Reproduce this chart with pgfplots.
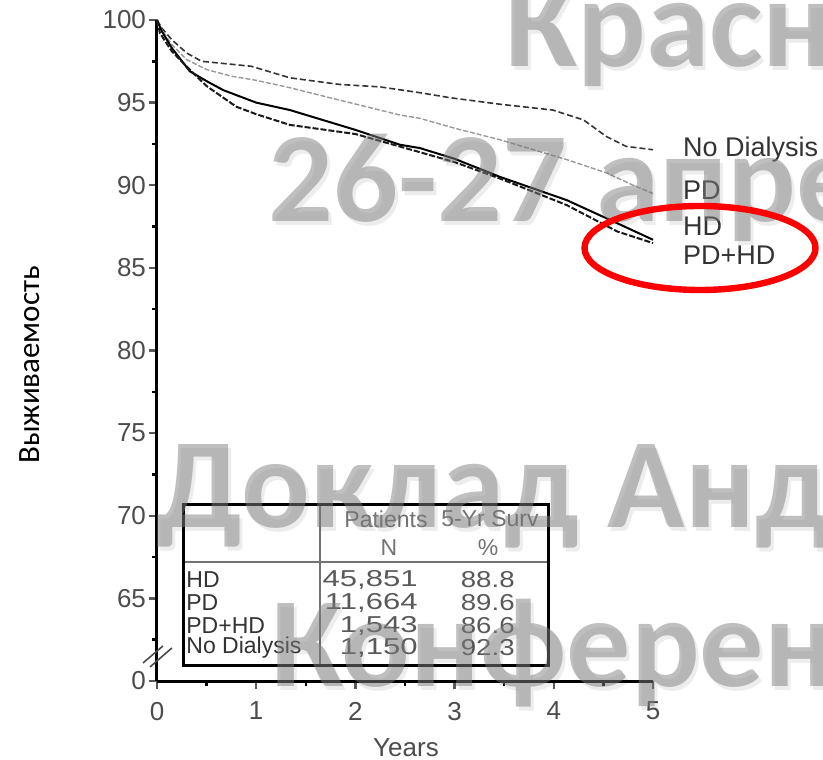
\documentclass[border=0pt]{standalone}
\usepackage{pgfplots}
\pgfplotsset{compat=1.18}
\usepackage{fontspec}
\setmainfont{Liberation Sans}
\newfontfamily\calibri{Carlito}
\definecolor{tickgray}{gray}{0.3}
\definecolor{txtgray}{gray}{0.2}
\definecolor{wm}{gray}{0.5}
\newcommand{\px}[2]{({(#1-157)*0.5pt},{(681-#2)*0.5pt})}
\begin{document}
\begin{tikzpicture}
\path[use as bounding box] (-78.5pt,-39pt) rectangle (333pt,340.5pt);
\clip (-78.5pt,-39pt) rectangle (333pt,340.5pt);
\begin{axis}[
  at={(0,0)}, anchor=south west,
  x=49.6pt, y=8.2625pt,
  xmin=0, xmax=5, ymin=60, ymax=100,
  axis x line*=bottom, axis y line*=left,
  axis line style={line width=1.5pt, black},
  clip=false,
  xtick={0,1,2,3,4,5}, minor xtick={0.5,1.5,2.5,3.5,4.5},
  ytick={60,65,70,75,80,85,90,95,100},
  yticklabels={0,65,70,75,80,85,90,95,100},
  minor ytick={62.5,67.5,72.5,77.5,82.5,87.5,92.5,97.5},
  tick align=outside,
  major tick length=4pt, minor tick length=2.5pt,
  every major tick/.append style={line width=1.2pt, black!65},
  every minor tick/.append style={line width=1.2pt, black},
  tick label style={font=\fontsize{13}{13}\selectfont, text=tickgray},
  /pgf/number format/assume math mode=true,
  xticklabel style={yshift=-3pt},
  yticklabel style={xshift=2pt},
  xlabel={Years},
  xlabel style={at={(axis description cs:0.502,-0.1014)}, anchor=center, font=\fontsize{13}{13}\selectfont, text=tickgray},
  ylabel={Выживаемость},
  ylabel style={at={(axis description cs:-0.256,0.478)}, anchor=center, font=\calibri\fontsize{15.5}{15.5}\selectfont, text=black},
]
% No Dialysis
\addplot[black!80, line width=0.8pt, dash pattern=on 3pt off 1.5pt] coordinates {
(0,100) (0.05,99.5) (0.15,98.8) (0.3,98.0) (0.45,97.5) (0.7,97.35) (0.95,97.2) (1.34,96.5) (1.84,96.1) (2.25,95.95) (2.65,95.6) (2.95,95.3) (3.46,94.9) (3.99,94.55) (4.3,93.95) (4.53,92.95) (4.73,92.35) (5.0,92.15)};
% PD
\addplot[black!40, line width=0.7pt, dash pattern=on 2.5pt off 1pt] coordinates {
(0,100) (0.05,99.4) (0.15,98.5) (0.3,97.6) (0.5,97.0) (0.75,96.6) (1.0,96.35) (1.34,95.9) (1.84,95.15) (2.45,94.25) (2.65,94.05) (3.0,93.45) (3.46,92.75) (4.13,91.55) (4.53,90.75) (4.8,90.0) (5.0,89.5)};
% HD
\addplot[black, line width=1pt] coordinates {
(0,100) (0.05,99.3) (0.15,98.3) (0.33,96.9) (0.5,96.3) (0.67,95.75) (1.0,95.0) (1.34,94.55) (2.0,93.35) (2.45,92.45) (2.65,92.25) (3.0,91.6) (3.46,90.5) (4.13,89.1) (4.64,87.7) (5.0,86.7)};
% PD+HD
\addplot[black!90, line width=1pt, dash pattern=on 3pt off 1pt] coordinates {
(0,100) (0.03,99.2) (0.15,98.1) (0.33,97.0) (0.5,96.0) (0.8,94.75) (1.0,94.3) (1.34,93.65) (2.0,93.1) (2.65,92.0) (3.0,91.4) (3.46,90.4) (4.13,88.8) (4.64,87.2) (5.0,86.5)};
% curve labels
\node[anchor=west, inner sep=0pt, font=\fontsize{13.5}{13.5}\selectfont, text=txtgray] at (axis cs:5.30,92.19) {No Dialysis};
\node[anchor=west, inner sep=0pt, font=\fontsize{13.5}{13.5}\selectfont, text=txtgray] at (axis cs:5.30,89.71) {PD};
\node[anchor=west, inner sep=0pt, font=\fontsize{13.5}{13.5}\selectfont, text=txtgray] at (axis cs:5.30,87.53) {HD};
\node[anchor=west, inner sep=0pt, font=\fontsize{13.5}{13.5}\selectfont, text=txtgray] at (axis cs:5.30,85.78) {PD+HD};
% axis break
\draw[black!70, line width=0.8pt] (axis cs:-0.141,61.09) -- (axis cs:0.06,62.12);
\draw[black!70, line width=0.8pt] (axis cs:-0.07,60.85) -- (axis cs:0.15,62.0);
\end{axis}
% inset table
\fill[white] \px{183}{505} rectangle \px{548}{665};
\draw[black!55, line width=1pt] \px{320}{505} -- \px{320}{665};
\draw[black!55, line width=1pt] \px{183}{562} -- \px{548}{562};
\draw[black, line width=1.5pt] \px{183}{505} rectangle \px{548}{665};
\begin{scope}[every node/.style={inner sep=0pt, font=\fontsize{11.5}{11.5}\selectfont}]
\node[text=black!55] at \px{386}{519} {Patients};
\node[text=black!55] at \px{389}{548} {N};
\node[text=black!55] at \px{490}{519} {5-Yr Surv};
\node[text=black!55] at \px{488}{548} {\%};
\node[anchor=west, text=txtgray] at \px{186}{580} {HD};
\node[anchor=west, text=txtgray] at \px{186}{603} {PD};
\node[anchor=west, text=txtgray] at \px{186}{626} {PD+HD};
\node[anchor=west, text=txtgray] at \px{186}{648} {No Dialysis};
\node[anchor=east, text=black!65] at \px{418}{580} {\scalebox{1.35}[1]{45,851}};
\node[anchor=east, text=black!65] at \px{418}{603} {\scalebox{1.35}[1]{11,664}};
\node[anchor=east, text=black!65] at \px{418}{626} {\scalebox{1.35}[1]{1,543}};
\node[anchor=east, text=black!65] at \px{418}{648} {\scalebox{1.35}[1]{1,150}};
\node[anchor=east, text=black!65] at \px{515}{580} {\scalebox{1.2}[1]{88.8}};
\node[anchor=east, text=black!65] at \px{515}{603} {\scalebox{1.2}[1]{89.6}};
\node[anchor=east, text=black!65] at \px{515}{626} {\scalebox{1.2}[1]{86.6}};
\node[anchor=east, text=black!65] at \px{515}{648} {\scalebox{1.2}[1]{92.3}};
\end{scope}
% watermark
\begin{scope}[every node/.style={anchor=base west, inner sep=0pt, font=\calibri\bfseries\fontsize{64}{64}\selectfont}]
\node[text=black, text opacity=0.07] at \px{508}{71} {Красноярск};
\node[text=black, text opacity=0.07] at \px{271}{226} {26-27 апреля};
\node[text=black, text opacity=0.07] at \px{159}{532} {Доклад Андреева};
\node[text=black, text opacity=0.07] at \px{274}{690} {Конференция};
\node[text=wm, text opacity=0.5] at \px{505}{67} {Красноярск};
\node[text=wm, text opacity=0.5] at \px{268}{222} {26-27 апреля};
\node[text=wm, text opacity=0.5] at \px{156}{528} {Доклад Андреева};
\node[text=wm, text opacity=0.5] at \px{271}{686} {Конференция};
\end{scope}
% red ellipse
\draw[red, line width=3.2pt] \px{700}{248} ellipse [x radius=57.75pt, y radius=21pt];
\end{tikzpicture}
\end{document}
